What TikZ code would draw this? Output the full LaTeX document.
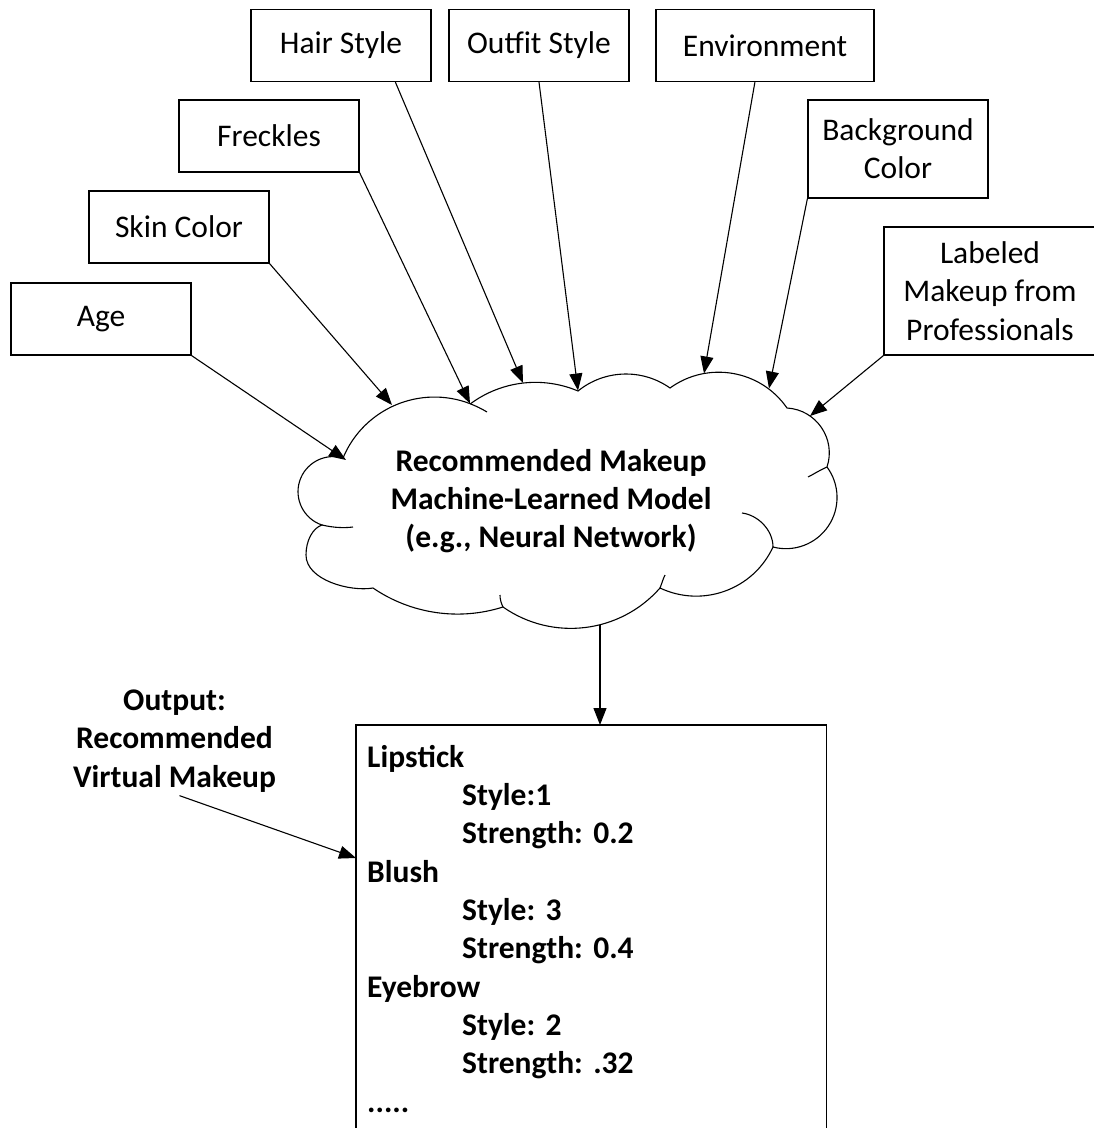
\documentclass[tikz,border=0pt]{standalone}
\usepackage{fontspec}
\setmainfont{Carlito}
\usetikzlibrary{arrows.meta, calc}

\newcommand\labelsize{\fontsize{31.5}{38.3}\selectfont\frenchspacing}

\begin{document}
\begin{tikzpicture}[x=1pt, y=-1pt,
    factor/.style={draw, line width=1.2pt, minimum width=180pt, minimum height=72pt,
        inner sep=0pt, align=center, font=\labelsize},
    feed/.style={line width=1.1pt, -{Triangle[length=17pt, width=13pt]}},
    cloudline/.style={line width=1.1pt}]
    \useasboundingbox (0,0) rectangle (1094,1128);
    \coordinate (base) at (0,1128);

    % --- Input boxes ---
    \node[factor] (age) at (101,319) {Age};
    \node[factor] (skin) at (179,227) {Skin Color};
    \node[factor] (freckles) at (269,136) {Freckles};
    \node[factor] (hair) at (341,45.5) {Hair Style};
    \node[factor] (outfit) at (539,45.5) {Outfit Style};
    \node[factor, minimum width=218pt] (environ) at (765,45.5) {Environment};
    \node[factor, minimum height=98pt] (backgr) at (898,149) {Background\\Color};
    \node[factor, minimum width=212pt, minimum height=128pt] (labeled) at (990,291)
        {Labeled\\Makeup from\\Professionals};

    % --- Cloud outline, one curve per puff, clockwise from the left ---
    \draw[cloudline, fill=white] (343,458)
        .. controls (363.7,408.3) and (420.3,384.3) .. (470.4,403.8)
        .. controls (501.5,380.8) and (542.4,375.9) .. (578,391)
        .. controls (604.5,369.5) and (642.2,368.3) .. (670,388)
        .. controls (707.7,360.7) and (760.5,369.7) .. (787,408)
        .. controls (816.4,409.7) and (836.3,439.0) .. (827,467)
        .. controls (839.9,484.4) and (840.4,508.1) .. (828.3,526.1)
        .. controls (816.2,544.1) and (794.0,552.5) .. (773,547)
        .. controls (753.3,589.7) and (702.5,608.1) .. (660,588)
        .. controls (620.1,633.4) and (552.5,641.6) .. (503,607)
        .. controls (459.0,621.0) and (411.2,614.0) .. (373,588)
        .. controls (350,592) and (306,580) .. (306,555)
        .. controls (306,540) and (313,528) .. (322,525)
        .. controls (303.9,519.0) and (293.9,499.4) .. (299.6,481.2)
        .. controls (305.3,463.0) and (324.7,452.6) .. (343,458)
        -- cycle;

    % --- Inner puff stubs ---
    \draw[cloudline] (470.4,403.8) .. controls (476,406.1) and (481.7,408.7) .. (487,412);
    \draw[cloudline] (827,467) .. controls (820,470) and (814,474) .. (808,477);
    \draw[cloudline] (773,547) .. controls (773,530) and (758,515) .. (742,513);
    \draw[cloudline] (660,588) .. controls (662,583) and (663,579) .. (665,575);
    \draw[cloudline] (503,607) .. controls (501,603) and (500,599) .. (500,595);
    \draw[cloudline] (322,525) .. controls (335,528) and (345,528) .. (353,527);

    \node[font=\bfseries\labelsize, align=center] (model) at (551,501)
        {Recommended Makeup\\Machine-Learned Model\\(e.g., Neural Network)};

    % --- Where the arrows meet the cloud ---
    \coordinate (inAge) at (346,460);
    \coordinate (inSkin) at (392,405);
    \coordinate (inFreckles) at (470,403.5);
    \coordinate (inHair) at (523,383);
    \coordinate (inOutfit) at (578,390.5);
    \coordinate (inEnviron) at (704,373.5);
    \coordinate (inBackgr) at (769,388.5);
    \coordinate (inLabeled) at (810,416);
    \coordinate (cloudbot) at (600,625);

    \draw[feed] (age.south east) -- (inAge);
    \draw[feed] (skin.south east) -- (inSkin);
    \draw[feed] (freckles.south east) -- (inFreckles);
    \draw[feed] ($(hair.south west)!0.8!(hair.south east)$) -- (inHair);
    \draw[feed] (outfit.south) -- (inOutfit);
    \draw[feed] ($(environ.south west)!0.454!(environ.south east)$) -- (inEnviron);
    \draw[feed] (backgr.south west) -- (inBackgr);
    \draw[feed] (labeled.south west) -- (inLabeled);

    % --- Output box (runs off the bottom) ---
    \node[anchor=north west, inner xsep=11pt, inner ysep=20pt, text width=448pt,
        align=left, font=\bfseries\labelsize] (result) at (356,725)
        {Lips\kern0pt tick\\
         \hspace*{95pt}Style:1\\
         \hspace*{95pt}Strength: 0.2\\
         Blush\\
         \hspace*{95pt}Style: 3\\
         \hspace*{95pt}Strength: 0.4\\
         Eyebrow\\
         \hspace*{95pt}Style: 2\\
         \hspace*{95pt}Strength: .32\\
         .....};
    \draw[line width=1.2pt] (result.west |- base) |- (result.north east) -- (result.east |- base);
    \draw[feed] (cloudbot) -- (cloudbot |- result.north);

    % --- Output label ---
    \node[font=\bfseries\labelsize, align=center] (outlbl) at (174.5,741)
        {Output:\\Recommended\\Virtual Makeup};
    \coordinate (inResult) at (356,858);
    \draw[feed] ([xshift=5pt]outlbl.south) -- (inResult);
\end{tikzpicture}
\end{document}
